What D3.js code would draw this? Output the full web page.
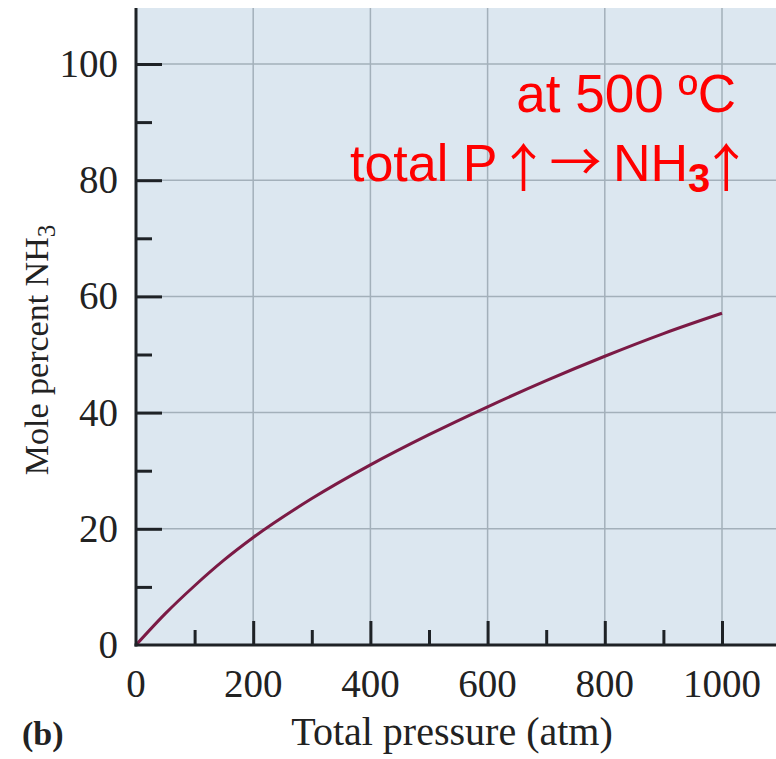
<!DOCTYPE html>
<html>
<head>
<meta charset="utf-8">
<script src="https://cdn.jsdelivr.net/npm/d3@7"></script>
<style>
  body { margin: 0; background: #fff; }
  svg { display: block; }
</style>
</head>
<body>
<svg width="776" height="759"></svg>
<script>
// values (pressure in atm, mole percent NH3)
const pressure = [0, 50, 100, 150, 200, 300, 400, 500, 600, 700, 800, 900, 1000]
const molePct = [0, 5.4, 10.2, 14.6, 18.5, 25.2, 31.0, 36.2, 41.0, 45.5, 49.7, 53.6, 57.1]
const xTicks = [0, 200, 400, 600, 800, 1000]
const yTicks = [0, 20, 40, 60, 80, 100]
const xMinor = [100, 300, 500, 700, 900]
const yMinor = [10, 30, 50, 70, 90]

const svg = d3.select("svg")
const serif = "'Liberation Serif', 'DejaVu Serif', serif"
const sans = "'Liberation Sans', Arial, sans-serif"
const arrowFont = "'Noto Sans CJK SC', 'DejaVu Sans', sans-serif"

const x = d3.scaleLinear().domain([0, 1000]).range([136, 722])
const y = d3.scaleLinear().domain([0, 100]).range([645, 64])

const plotL = x(0), plotR = 776, plotT = 8, plotB = y(0)

// plot background
svg.append("rect")
  .attr("x", plotL).attr("y", plotT)
  .attr("width", plotR - plotL).attr("height", plotB - plotT)
  .attr("fill", "#dce7f0")

// grid
const grid = svg.append("g").attr("stroke", "#a3b0ba").attr("stroke-width", 1.5)
grid.selectAll(".vg")
  .data(xTicks.slice(1))
  .enter().append("line")
  .attr("x1", d => x(d)).attr("x2", d => x(d))
  .attr("y1", plotT).attr("y2", plotB)
grid.selectAll(".hg")
  .data(yTicks.slice(1))
  .enter().append("line")
  .attr("x1", plotL).attr("x2", plotR)
  .attr("y1", d => y(d)).attr("y2", d => y(d))

// curve
const line = d3.line()
  .x(d => x(d[0]))
  .y(d => y(d[1]))
  .curve(d3.curveMonotoneX)

svg.append("path")
  .datum(pressure.map((p, i) => [p, molePct[i]]))
  .attr("d", line)
  .attr("fill", "none")
  .attr("stroke", "#7b1a45")
  .attr("stroke-width", 3)

// axes, ticks drawn inward
const ink = "#1e2226"
const yAxis = svg.append("g").attr("transform", "translate(" + plotL + ",0)")
  .call(d3.axisRight(y).tickValues(yTicks).tickSize(26).tickFormat(""))
yAxis.selectAll("line").attr("stroke", ink).attr("stroke-width", 3)
yAxis.select(".domain").remove()
yAxis.selectAll(".tick").filter(d => d === 0).remove()

const yAxisMinor = svg.append("g").attr("transform", "translate(" + plotL + ",0)")
  .call(d3.axisRight(y).tickValues(yMinor).tickSize(16).tickFormat(""))
yAxisMinor.selectAll("line").attr("stroke", ink).attr("stroke-width", 3)
yAxisMinor.select(".domain").remove()

const xAxis = svg.append("g").attr("transform", "translate(0," + plotB + ")")
  .call(d3.axisTop(x).tickValues(xTicks).tickSize(24).tickFormat(""))
xAxis.selectAll("line").attr("stroke", ink).attr("stroke-width", 3)
xAxis.select(".domain").remove()
xAxis.selectAll(".tick").filter(d => d === 0).remove()

const xAxisMinor = svg.append("g").attr("transform", "translate(0," + plotB + ")")
  .call(d3.axisTop(x).tickValues(xMinor).tickSize(15).tickFormat(""))
xAxisMinor.selectAll("line").attr("stroke", ink).attr("stroke-width", 3)
xAxisMinor.select(".domain").remove()

svg.append("line")
  .attr("x1", plotL).attr("x2", plotL).attr("y1", plotT).attr("y2", plotB + 1.5)
  .attr("stroke", ink).attr("stroke-width", 3)
svg.append("line")
  .attr("x1", plotL - 1.5).attr("x2", plotR).attr("y1", plotB).attr("y2", plotB)
  .attr("stroke", ink).attr("stroke-width", 3)

// tick labels
svg.selectAll(".ylab")
  .data(yTicks)
  .enter().append("text")
  .attr("x", 118)
  .attr("y", d => y(d) + 13)
  .attr("text-anchor", "end")
  .attr("font-family", serif).attr("font-size", 39).attr("fill", "#222")
  .text(d => d)

svg.selectAll(".xlab")
  .data(xTicks)
  .enter().append("text")
  .attr("x", d => x(d))
  .attr("y", 697)
  .attr("text-anchor", "middle")
  .attr("font-family", serif).attr("font-size", 39).attr("fill", "#222")
  .text(d => d)

// axis titles
svg.append("text")
  .attr("x", 452).attr("y", 745)
  .attr("text-anchor", "middle")
  .attr("font-family", serif).attr("font-size", 40).attr("fill", "#222")
  .text("Total pressure (atm)")

const yTitle = svg.append("text")
  .attr("transform", "translate(48,350) rotate(-90)")
  .attr("text-anchor", "middle")
  .attr("font-family", serif).attr("font-size", 34).attr("fill", "#222")
yTitle.append("tspan").text("Mole percent NH")
yTitle.append("tspan").attr("dy", 7).attr("font-size", 25).text("3")

svg.append("text")
  .attr("x", 22).attr("y", 745)
  .attr("font-family", serif).attr("font-size", 34).attr("font-weight", "bold").attr("fill", "#222")
  .text("(b)")

// red annotation
svg.append("text")
  .attr("x", 736).attr("y", 112)
  .attr("text-anchor", "end")
  .attr("font-family", sans).attr("font-size", 53).attr("fill", "#ff0000")
  .text("at 500 ºC")

const note = svg.append("text")
  .attr("x", 350).attr("y", 181)
  .attr("font-family", sans).attr("font-size", 52).attr("fill", "#ff0000")
note.append("tspan").text("total P")
note.append("tspan").attr("font-family", arrowFont).attr("dy", 6).text("↑")
note.append("tspan").attr("font-family", arrowFont).attr("dy", -6).text("→")
note.append("tspan").attr("dx", -3).text(" NH")
note.append("tspan").attr("dy", 11).attr("font-size", 40).attr("font-weight", "bold").text("3")
note.append("tspan").attr("dy", -5).attr("dx", -10).attr("font-family", arrowFont).text("↑")
</script>
</body>
</html>
